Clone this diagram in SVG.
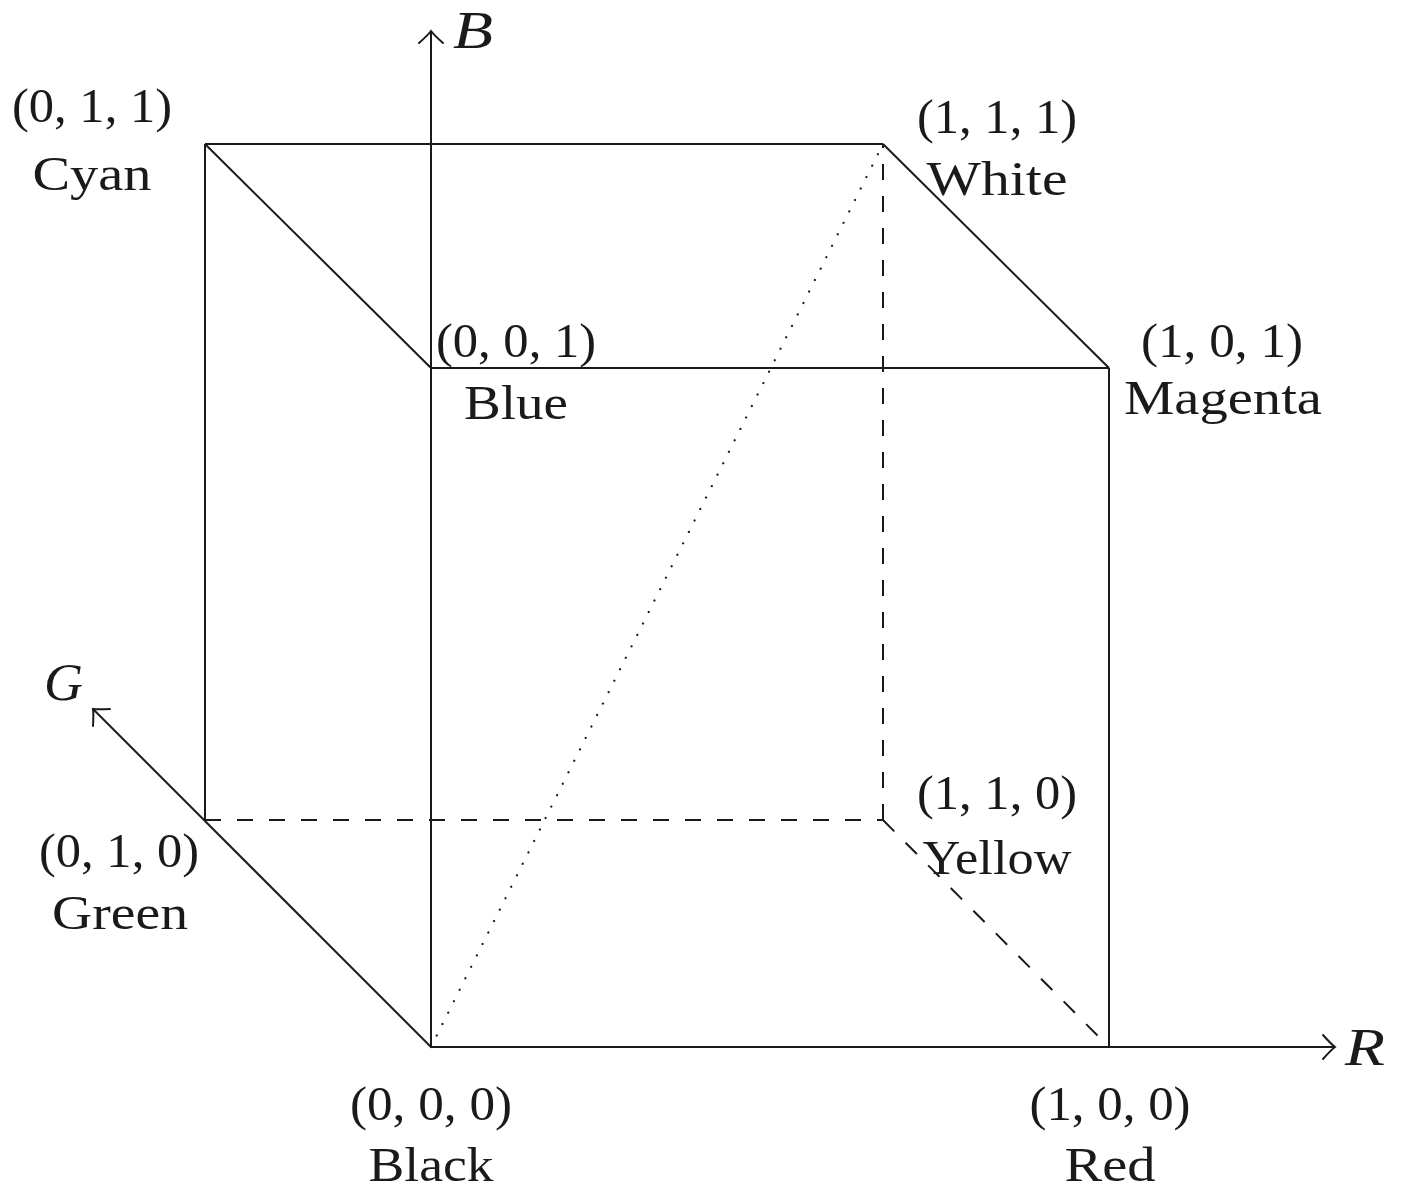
<svg xmlns="http://www.w3.org/2000/svg" width="1401" height="1189" viewBox="0 0 1401 1189">
<style>
  .edge { stroke: #1a1a1a; stroke-width: 2; fill: none; }
  .dash { stroke: #1a1a1a; stroke-width: 2; fill: none; stroke-dasharray: 16 16; }
  .dot { stroke: #1a1a1a; stroke-width: 2.2; fill: none; stroke-dasharray: 0.1 12.7; stroke-linecap: round; }
  text { font-family: "Liberation Serif", "DejaVu Serif", serif; font-size: 48px; fill: #1a1a1a; text-anchor: middle; }
  .ax { font-style: italic; text-anchor: start; font-size: 52px; }
</style>
<defs>
  <marker id="arr" viewBox="-14 -14 16 28" markerWidth="16" markerHeight="28" refX="0" refY="0" markerUnits="userSpaceOnUse" orient="auto">
    <path d="M -12 -12 Q -4 -3 0 0 Q -4 3 -12 12" stroke="#1a1a1a" stroke-width="2" fill="none" stroke-linecap="round"/>
  </marker>
</defs>
<rect width="1401" height="1189" fill="#ffffff"/>
<g id="connectors">
  <line class="edge" x1="431" y1="1047" x2="431" y2="31" marker-end="url(#arr)"/>
  <line class="edge" x1="431" y1="1047" x2="1335" y2="1047" marker-end="url(#arr)"/>
  <line class="edge" x1="431" y1="1047" x2="93" y2="709" marker-end="url(#arr)"/>
  <line class="edge" x1="205" y1="144" x2="883" y2="144"/>
  <line class="edge" x1="205" y1="144" x2="431" y2="368"/>
  <line class="edge" x1="883" y1="144" x2="1109" y2="368"/>
  <line class="edge" x1="431" y1="368" x2="1109" y2="368"/>
  <line class="edge" x1="205" y1="144" x2="205" y2="820"/>
  <line class="edge" x1="1109" y1="368" x2="1109" y2="1047"/>
  <line class="dash" x1="205" y1="820" x2="883" y2="820"/>
  <line class="dash" x1="883" y1="820" x2="883" y2="144"/>
  <line class="dash" x1="883" y1="820" x2="1109" y2="1047"/>
  <line class="dot" x1="431" y1="1047" x2="883" y2="144"/>
</g>
<g id="axis-B"><text class="ax" x="453" y="48" textLength="40" lengthAdjust="spacingAndGlyphs">B</text></g>
<g id="axis-G"><text class="ax" x="44" y="700" textLength="39" lengthAdjust="spacingAndGlyphs">G</text></g>
<g id="axis-R"><text class="ax" x="1345" y="1065" textLength="40" lengthAdjust="spacingAndGlyphs">R</text></g>
<g id="node-cyan">
  <text x="92" y="122" textLength="160" lengthAdjust="spacingAndGlyphs">(0, 1, 1)</text>
  <text x="92" y="190" textLength="119" lengthAdjust="spacingAndGlyphs">Cyan</text>
</g>
<g id="node-white">
  <text x="997" y="133" textLength="160" lengthAdjust="spacingAndGlyphs">(1, 1, 1)</text>
  <text x="997" y="195" textLength="141" lengthAdjust="spacingAndGlyphs">White</text>
</g>
<g id="node-blue">
  <text x="516" y="357" textLength="160" lengthAdjust="spacingAndGlyphs">(0, 0, 1)</text>
  <text x="516" y="419" textLength="104" lengthAdjust="spacingAndGlyphs">Blue</text>
</g>
<g id="node-magenta">
  <text x="1222" y="357" textLength="162" lengthAdjust="spacingAndGlyphs">(1, 0, 1)</text>
  <text x="1223" y="414" textLength="198" lengthAdjust="spacingAndGlyphs">Magenta</text>
</g>
<g id="node-yellow">
  <text x="997" y="809" textLength="160" lengthAdjust="spacingAndGlyphs">(1, 1, 0)</text>
  <text x="997" y="874" textLength="149" lengthAdjust="spacingAndGlyphs">Yellow</text>
</g>
<g id="node-green">
  <text x="119" y="867" textLength="160" lengthAdjust="spacingAndGlyphs">(0, 1, 0)</text>
  <text x="120" y="929" textLength="136" lengthAdjust="spacingAndGlyphs">Green</text>
</g>
<g id="node-black">
  <text x="431" y="1120" textLength="162" lengthAdjust="spacingAndGlyphs">(0, 0, 0)</text>
  <text x="431" y="1181" font-size="46" textLength="125" lengthAdjust="spacingAndGlyphs">Black</text>
</g>
<g id="node-red">
  <text x="1110" y="1120" textLength="161" lengthAdjust="spacingAndGlyphs">(1, 0, 0)</text>
  <text x="1110" y="1181" font-size="46" textLength="91" lengthAdjust="spacingAndGlyphs">Red</text>
</g>
</svg>
